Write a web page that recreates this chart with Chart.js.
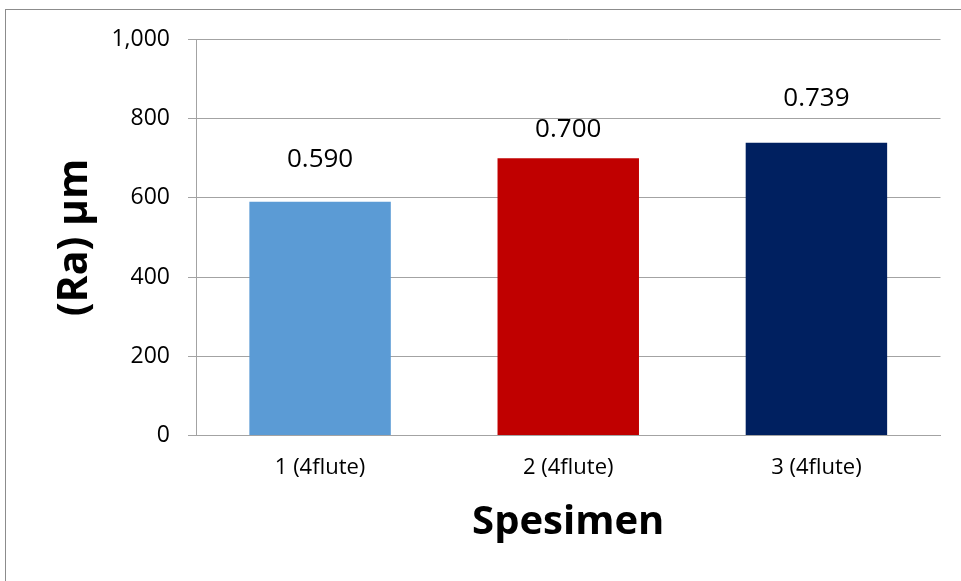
<!DOCTYPE html>
<html>
<head>
<meta charset="utf-8">
<script src="https://cdn.jsdelivr.net/npm/chart.js@4/dist/chart.umd.min.js"></script>
<style>
  html, body { margin: 0; padding: 0; background: #ffffff; }
  canvas { display: block; }
</style>
</head>
<body>
<canvas id="c" width="961" height="581"></canvas>
<script>
// Surface roughness (Ra) per specimen
const categories = ["1 (4flute)", "2 (4flute)", "3 (4flute)"];
const raValues = [0.590, 0.700, 0.739];
const barColors = ["#5B9BD5", "#C00000", "#002060"];
const yTickLabels = ["0", "200", "400", "600", "800", "1,000"];
const yTitle = "(Ra) µm";
const xTitle = "Spesimen";

const FONT = "'Open Sans', 'DejaVu Sans', sans-serif";
const GRID = "#a3a3a3";
// gap (px) between each bar top and its value label baseline
const labelLift = [35, 21, 37];

// Thin grey frame around the chart object
const framePlugin = {
  id: "frame",
  beforeDraw(chart) {
    const ctx = chart.ctx;
    ctx.save();
    ctx.fillStyle = "#ffffff";
    ctx.fillRect(0, 0, chart.width, chart.height);
    ctx.strokeStyle = "#8c8c8c";
    ctx.lineWidth = 1;
    ctx.strokeRect(5.5, 9.5, chart.width + 20, chart.height + 20);
    ctx.restore();
  }
};

// Value printed above each bar
const valueLabels = {
  id: "valueLabels",
  afterDatasetsDraw(chart) {
    const ctx = chart.ctx;
    const meta = chart.getDatasetMeta(0);
    ctx.save();
    ctx.font = "26px " + FONT;
    ctx.fillStyle = "#000000";
    ctx.textAlign = "center";
    ctx.textBaseline = "alphabetic";
    meta.data.forEach((bar, i) => {
      const v = chart.data.datasets[0].data[i];
      ctx.fillText(v.toFixed(3), bar.x, bar.y - labelLift[i]);
    });
    ctx.restore();
  }
};

new Chart(document.getElementById("c"), {
  type: "bar",
  data: {
    labels: categories,
    datasets: [{
      data: raValues,
      backgroundColor: barColors,
      borderWidth: 0,
      categoryPercentage: 1.0,
      barPercentage: 0.57
    }]
  },
  options: {
    responsive: false,
    animation: false,
    devicePixelRatio: 1,
    layout: { padding: { left: 0, right: 20.5, top: 39.5, bottom: 0 } },
    plugins: {
      legend: { display: false },
      tooltip: { enabled: false }
    },
    scales: {
      x: {
        grid: { display: false, drawTicks: false },
        border: { display: true, color: GRID, width: 1 },
        ticks: {
          color: "#000000",
          font: { family: FONT, size: 22 },
          padding: 19
        },
        title: {
          display: true,
          text: xTitle,
          color: "#000000",
          font: { family: FONT, size: 40, weight: "bold", lineHeight: 1.2 },
          padding: { top: 0, bottom: 34 }
        },
        afterFit(scale) { scale.height = 145.5; }
      },
      y: {
        min: 0,
        max: 1,
        ticks: {
          stepSize: 0.2,
          color: "#000000",
          font: { family: FONT, size: 23 },
          padding: 18,
          callback: (value, index) => yTickLabels[index]
        },
        grid: { color: GRID, lineWidth: 1, drawTicks: true, tickLength: 8 },
        border: { display: true, color: GRID, width: 1 },
        title: {
          display: true,
          text: yTitle,
          color: "#000000",
          font: { family: FONT, size: 41, weight: "bold", lineHeight: 1.2 },
          padding: { top: 51, bottom: 0 }
        },
        afterFit(scale) { scale.width = 196; }
      }
    }
  },
  plugins: [framePlugin, valueLabels]
});
</script>
</body>
</html>
